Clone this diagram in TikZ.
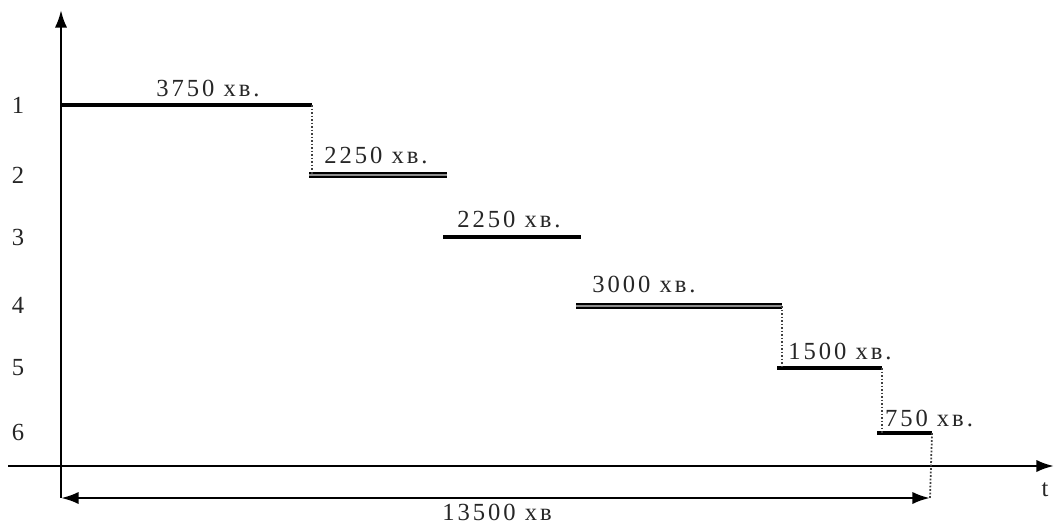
\documentclass[tikz,border=0pt]{standalone}
\usepackage{fontspec}
\setmainfont{Liberation Serif}
\usetikzlibrary
  {
    arrows.meta,              % arrow heads
    positioning,              % place nodes relative to other nodes
  }

\begin{document}
\begin{tikzpicture}
    [
      x=0.02cm, y=-0.02cm,
      axis/.style=
        {
          line width=1.5pt,
          -{Latex[length=10pt,width=7pt]},
        },
      span/.style=
        {
          line width=1.5pt,
          {Latex[length=10pt,width=7pt]}-{Latex[length=10pt,width=7pt]},
        },
      stage/.style=
        {
          line width=2.1pt,
        },
      twin/.style=
        {
          line width=1.4pt,
          double=black!45,
          double distance=0.9pt,
        },
      drop/.style=
        {
          densely dotted,
          line width=1pt,
          black!75,
        },
      note/.style=
        {
          font=\fontsize{14}{16}\addfontfeatures{LetterSpace=12}\selectfont,
          text=black!85,
          inner sep=1pt,
        },
    ]
    \useasboundingbox (0,0) rectangle (1055,524);

    % axes
    \coordinate (origin)  at (61,466);
    \coordinate (ytop)    at (61,10);
    \coordinate (ybottom) at (61,498);
    \coordinate (xleft)   at (8,466);
    \coordinate (xright)  at (1054,466);
    \draw[line width=1.5pt] (origin) -- (ybottom);
    \draw[axis] (origin) -- (ytop);
    \draw[axis] (xleft) -- (xright);
    \node[note] (t) at (1045,490) {t};

    % levels
    \node[note] (n1) at (18,105) {1};
    \node[note] (n2) at (18,175) {2};
    \node[note] (n3) at (18,237) {3};
    \node[note] (n4) at (18,305) {4};
    \node[note] (n5) at (18,368) {5};
    \node[note] (n6) at (18,432) {6};

    % stages
    \coordinate (s1a) at (61,105);  \coordinate (s1b) at (312,105);
    \coordinate (s2a) at (309,175); \coordinate (s2b) at (447,175);
    \coordinate (s3a) at (443,237); \coordinate (s3b) at (581,237);
    \coordinate (s4a) at (576,306); \coordinate (s4b) at (782,306);
    \coordinate (s5a) at (777,368); \coordinate (s5b) at (882,368);
    \coordinate (s6a) at (877,433); \coordinate (s6b) at (932,433);
    \coordinate (dimend) at (930,498);

    \draw[stage] (s1a) -- (s1b);
    \draw[twin]  (s2a) -- (s2b);
    \draw[stage] (s3a) -- (s3b);
    \draw[twin]  (s4a) -- (s4b);
    \draw[stage] (s5a) -- (s5b);
    \draw[stage] (s6a) -- (s6b);

    \draw[drop] (s1b) -- (s1b |- s2a);
    \draw[drop] (s4b) -- (s4b |- s5a);
    \draw[drop] (s5b) -- (s5b |- s6a);
    \draw[drop] (s6b) -- (dimend);

    \node[note] (d1) at (208,88)  {3750 хв.};
    \node[note] (d2) at (376,155) {2250 хв.};
    \node[note] (d3) at (509,219) {2250 хв.};
    \node[note] (d4) at (644,284) {3000 хв.};
    \node[note] (d5) at (840,351) {1500 хв.};
    \node[note] (d6) at (929,418) {750 хв.};

    % total
    \draw[span] (ybottom) -- (dimend);
    \node[note] (total) at (497,512) {13500 хв};
\end{tikzpicture}
\end{document}
